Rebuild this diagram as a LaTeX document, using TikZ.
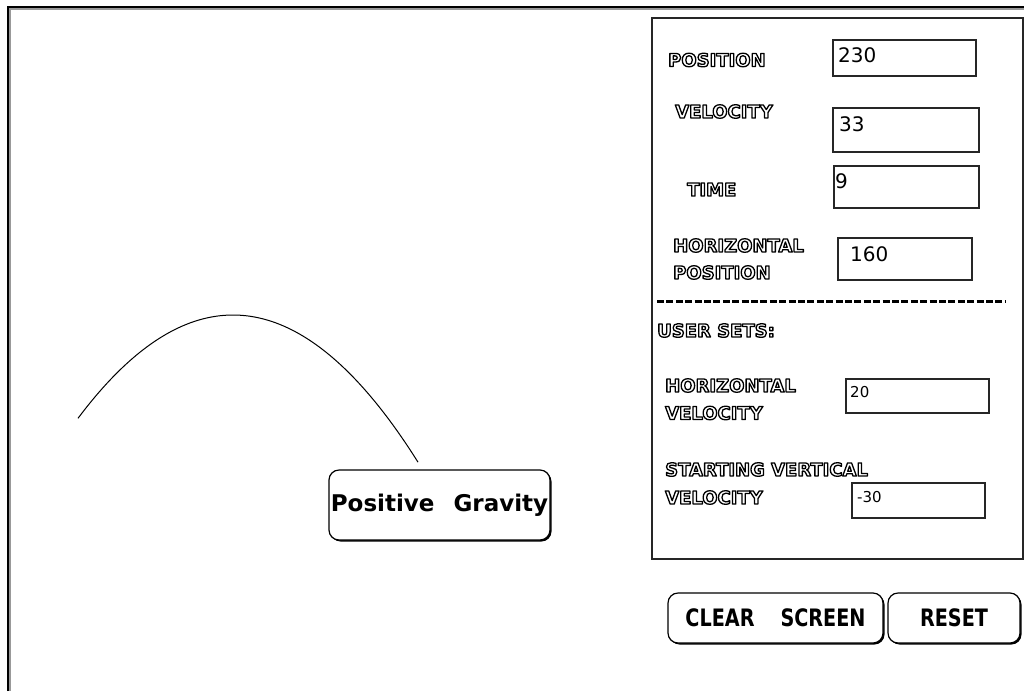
\documentclass[tikz,border=0pt]{standalone}
\usepackage{fontspec}
\usetikzlibrary{shadows}
\newfontfamily\lblfont{DejaVu Sans}
\newfontfamily\valfont{DejaVu Sans}
\newfontfamily\btnfont[FakeStretch=0.8]{DejaVu Sans}
\newfontfamily\gravfont{DejaVu Sans}
\newcommand{\outl}[1]{{\color{white}\special{pdf:literal q 0 G 2 Tr 1.3 w 1 j}#1\special{pdf:literal Q}}}
\begin{document}
\begin{tikzpicture}[x=1pt,y=-1pt,
  field/.style={draw=black!85, line width=1.5pt, inner sep=0, anchor=north west},
  lbl/.style={anchor=west, inner sep=0, font=\lblfont\bfseries\fontsize{18}{18}\selectfont},
  val/.style={anchor=west, inner sep=0, font=\valfont\fontsize{20}{20}\selectfont},
  sval/.style={anchor=west, inner sep=0, font=\valfont\fontsize{15}{15}\selectfont},
  btn/.style={draw, line width=1.2pt, rounded corners=10pt, fill=white, inner sep=0,
    drop shadow={shadow xshift=1.5pt, shadow yshift=-1.5pt, fill=black, opacity=1}},
  btntext/.style={font=\btnfont\bfseries\fontsize{24}{24}\selectfont},
]
\useasboundingbox (0,0) rectangle (1024,691);
% outer frame
\draw[line width=1.5pt, black!40] (9.8,691) -- (9.8,8.8) -- (1024,8.8);
\draw[line width=2pt] (8,691) -- (8,7) -- (1024,7);
% panel
\node[draw=black!85, line width=1.5pt, inner sep=0, anchor=north west,
  minimum width=371pt, minimum height=541pt] (panel) at (651,17) {};
% labels
\node[lbl] (lpos) at (668,60) {\outl{POSITION}};
\node[lbl] (lvel) at (675,111.5) {\outl{VELOCITY}};
\node[lbl] (ltime) at (687,189.5) {\outl{TIME}};
\node[lbl] (lhp1) at (673,245.5) {\outl{HORIZONTAL}};
\node[lbl] (lhp2) at (673,272.5) {\outl{POSITION}};
\node[lbl] (luser) at (657,330.5) {\outl{USER SETS:}};
\node[lbl] (lhv1) at (665,385.5) {\outl{HORIZONTAL}};
\node[lbl] (lhv2) at (665,413) {\outl{VELOCITY}};
\node[lbl] (lsv1) at (665,469.5) {\outl{STARTING VERTICAL}};
\node[lbl] (lsv2) at (665,497.5) {\outl{VELOCITY}};
% fields
\node[field, minimum width=143pt, minimum height=36pt] (fpos) at (832,39) {};
\node[field, minimum width=146pt, minimum height=44pt] (fvel) at (832,107) {};
\node[field, minimum width=145pt, minimum height=42pt] (ftime) at (833,165) {};
\node[field, minimum width=134pt, minimum height=42pt] (fhpos) at (837,237) {};
\node[field, minimum width=143pt, minimum height=34pt] (fhvel) at (845,378) {};
\node[field, minimum width=133pt, minimum height=35pt] (fsvv) at (851,482) {};
% values
\node[val] (vpos) at (838,55.5) {230};
\node[val] (vvel) at (839,124.5) {33};
\node[val] (vtime) at (835,181.5) {9};
\node[val] (vhpos) at (850,254.5) {160};
\node[sval] (vhvel) at (850,392.5) {20};
\node[sval] (vsvv) at (857,497.5) {-30};
% separator
\coordinate (dl) at (657,301);
\coordinate (dr) at (1005,301);
\draw[line width=3pt, dash pattern=on 7pt off 2.4pt] (dl) -- (dr);
% buttons
\node[btn, minimum width=215pt, minimum height=50pt, btntext] (clear) at (775.5,618) {CLEAR\hspace{26pt}SCREEN};
\node[btn, minimum width=132pt, minimum height=50pt, btntext] (reset) at (954,618) {RESET};
\node[btn, minimum width=221pt, minimum height=70pt, font=\gravfont\bfseries\fontsize{23}{23}\selectfont] (grav) at (439.5,505) {Positive\hspace{11pt} Gravity};
% trajectory
\draw[line width=1pt] plot[domain=78:418, samples=80, smooth] (\x, {315+0.43*((\x-233)/10)^2});
\end{tikzpicture}
\end{document}
